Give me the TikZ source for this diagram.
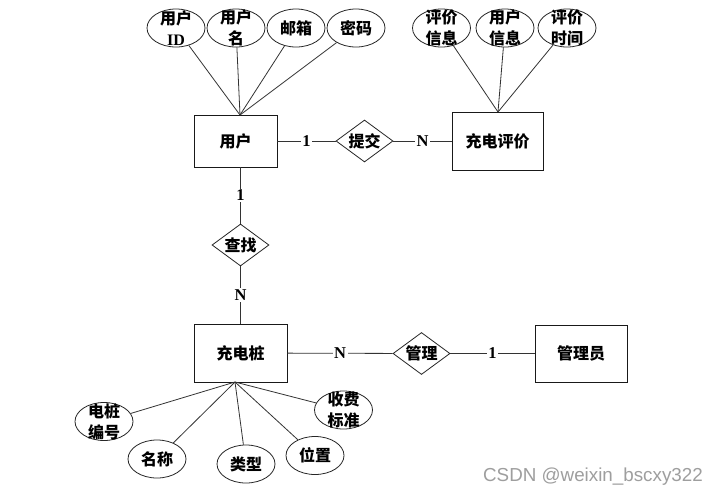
\documentclass[tikz,border=0pt]{standalone}
\usepackage{fontspec}
\setmainfont{Liberation Serif}
\newfontfamily\zh{Noto Sans CJK SC}
\newfontfamily\wm{Liberation Sans}
\usetikzlibrary{shapes.geometric}
\begin{document}
\begin{tikzpicture}[x=1pt,y=-1pt,
  ent/.style={draw=black!90, line width=0.95pt, rectangle, inner sep=0pt,
    font=\zh\bfseries\fontsize{16}{21}\selectfont},
  rel/.style={diamond, draw=black!85, line width=0.8pt, minimum width=57pt,
    minimum height=42pt, inner sep=0pt},
  attr/.style={ellipse, draw=black!85, line width=0.8pt, minimum width=58pt,
    minimum height=38pt, inner sep=0pt},
  lbl/.style={font=\zh\bfseries\fontsize{16}{21}\selectfont, align=center, inner sep=0pt},
  card/.style={font=\rmfamily\bfseries\fontsize{16.5}{18}\selectfont, fill=white, inner sep=1.5pt},
  edge/.style={draw=black!80, line width=0.8pt}
]
\fill[white] (0,0) rectangle (718,496);
\useasboundingbox (0,0) rectangle (718,496);

% entities
\node[ent, minimum width=83pt, minimum height=52pt] (user) at (235.5,141) {用户};
\node[ent, minimum width=91pt, minimum height=58pt] (review) at (497.5,141) {充电评价};
\node[ent, minimum width=93pt, minimum height=58pt] (pile) at (240.5,353) {充电桩};
\node[ent, minimum width=92pt, minimum height=57pt] (admin) at (581,353.5) {管理员};

% relations
\node[rel, label={[lbl, name=submitt]center:提交}] (submit) at (364.5,141) {};
\node[rel, label={[lbl, name=findt]center:查找}] (find) at (240.5,245) {};
\node[rel, label={[lbl, name=managet]center:管理}] (manage) at (421.5,353.5) {};

% attributes of user
\node[attr, label={[lbl, name=uidt]center:{用户\\\rmfamily ID}}] (uid) at (176,28) {};
\node[attr, label={[lbl, name=unamet]center:{用户\\名}}] (uname) at (236,28) {};
\node[attr, label={[lbl, name=mailt]center:邮箱}] (mail) at (296,28) {};
\node[attr, label={[lbl, name=pwdt]center:密码}] (pwd) at (356,28) {};
% attributes of review
\node[attr, label={[lbl, name=rinfot]center:{评价\\信息}}] (rinfo) at (441.5,28) {};
\node[attr, label={[lbl, name=uinfot]center:{用户\\信息}}] (uinfo) at (505,28) {};
\node[attr, label={[lbl, name=rtimet]center:{评价\\时间}}] (rtime) at (567,28) {};
% attributes of pile
\node[attr, label={[lbl, name=pnot]center:{电桩\\编号}}] (pno) at (104,421.5) {};
\node[attr, label={[lbl, name=pnamet]center:名称}] (pname) at (157,459) {};
\node[attr, label={[lbl, name=ptypet]center:类型}] (ptype) at (246,464) {};
\node[attr, label={[lbl, name=ploct]center:位置}] (ploc) at (315,455.5) {};
\node[attr, label={[lbl, name=pfeet]center:{收费\\标准}}] (pfee) at (343.5,410) {};

\coordinate (ucon) at (240,115);
\coordinate (rcon) at (498,112);
\coordinate (pcon) at (235,382);

\foreach \a in {uid,uname,mail,pwd} \draw[edge] (\a) -- (ucon);
\foreach \a in {rinfo,uinfo,rtime} \draw[edge] (\a) -- (rcon);
\foreach \a in {pno,pname,ptype,ploc,pfee} \draw[edge] (\a) -- (pcon);

% relationship connectors
\draw[edge] (user) -- node[card] (c1) {1} (submit);
\draw[edge] (submit) -- node[card] (c2) {N} (review);
\draw[edge] (find |- user.south) -- node[card] (c3) {1} (find);
\draw[edge] (find) -- node[card] (c4) {N} (pile);
\draw[edge] (pile) -- node[card] (c5) {N} (manage);
\draw[edge] (manage) -- node[card] (c6) {1} (admin);

% watermark
\node[font=\wm\fontsize{18.8}{20}\selectfont, text=black!38, inner sep=0pt] (wmk) at (593,477) {CSDN @weixin\_bscxy322};
\end{tikzpicture}
\end{document}
